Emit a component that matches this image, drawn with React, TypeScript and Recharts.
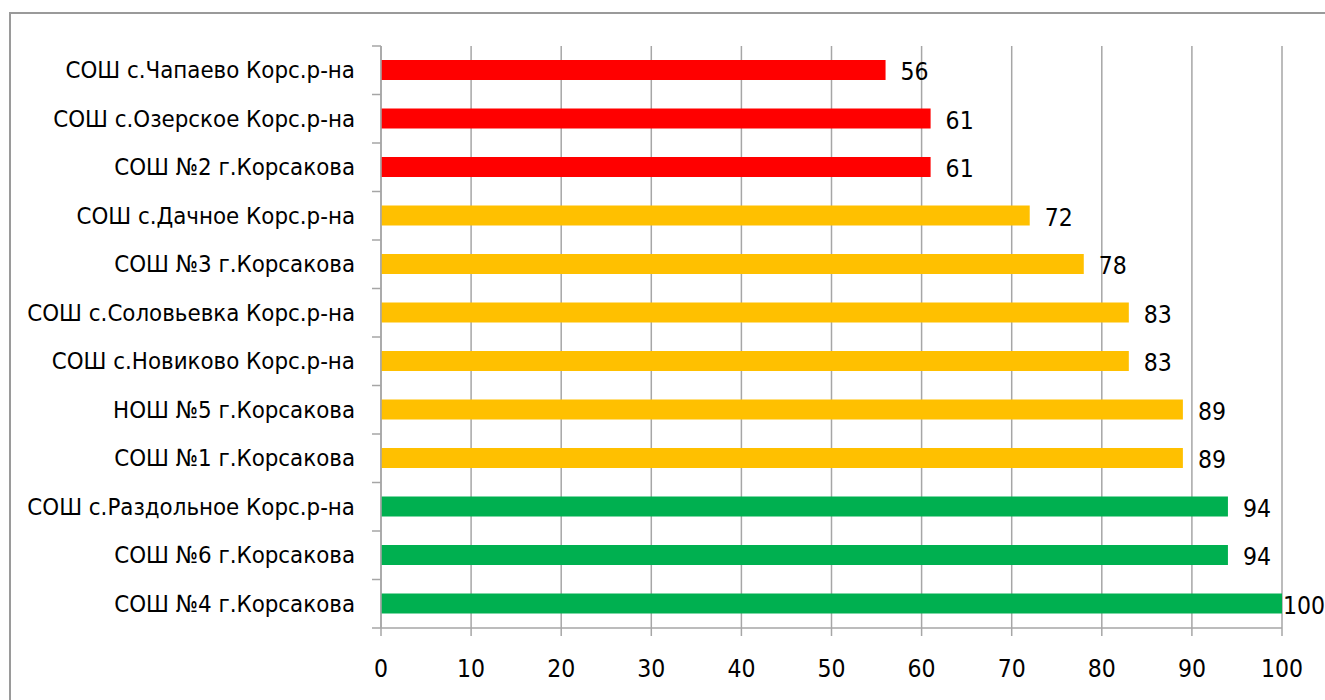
import React from 'react';
import { BarChart, Bar, XAxis, YAxis, CartesianGrid, Cell, LabelList } from 'recharts';

const schools = [
  'СОШ с.Чапаево Корс.р-на',
  'СОШ с.Озерское Корс.р-на',
  'СОШ №2 г.Корсакова',
  'СОШ с.Дачное Корс.р-на',
  'СОШ №3 г.Корсакова',
  'СОШ с.Соловьевка Корс.р-на',
  'СОШ с.Новиково Корс.р-на',
  'НОШ №5 г.Корсакова',
  'СОШ №1 г.Корсакова',
  'СОШ с.Раздольное Корс.р-на',
  'СОШ №6 г.Корсакова',
  'СОШ №4 г.Корсакова',
];
const scores = [56, 61, 61, 72, 78, 83, 83, 89, 89, 94, 94, 100];
const barColors = [
  '#FF0000', '#FF0000', '#FF0000',
  '#FFC000', '#FFC000', '#FFC000', '#FFC000', '#FFC000', '#FFC000',
  '#00B050', '#00B050', '#00B050',
];
const xTicks = [0, 10, 20, 30, 40, 50, 60, 70, 80, 90, 100];

const data = schools.map((name, i) => ({ name, value: scores[i] }));

const W = 1325;
const H = 700;
const margin = { top: 46, right: 43, bottom: 30, left: 0 };
const Y_AXIS_W = 381;
const X_AXIS_H = 42;
const FONT = "'DejaVu Sans Condensed', 'Liberation Sans Narrow', sans-serif";
const GRID = '#a6a6a6';

const plotH = H - margin.top - margin.bottom - X_AXIS_H;
const band = plotH / schools.length;
const axisX = margin.left + Y_AXIS_W;

const YTick = (props: any) => {
  const { y, payload, index } = props;
  return (
    <g>
      <text x={axisX - 26} y={y} textAnchor="end" dominantBaseline="central" fontSize={23.8} fill="#000" fontFamily={FONT}>
        {payload.value}
      </text>
      <line x1={axisX - 9} x2={axisX} y1={y - band / 2} y2={y - band / 2} stroke={GRID} strokeWidth={1.5} />
      {index === schools.length - 1 && (
        <line x1={axisX - 9} x2={axisX} y1={y + band / 2} y2={y + band / 2} stroke={GRID} strokeWidth={1.5} />
      )}
    </g>
  );
};

const ValueLabel = (props: any) => {
  const { x, y, width, height, value } = props;
  const tx = Math.min(x + width + 15, W - 42);
  return (
    <text x={tx} y={y + height / 2 + 1.5} dominantBaseline="central" fontSize={24.5} fill="#000" fontFamily={FONT}>
      {value}
    </text>
  );
};

export default function App() {
  return (
    <div style={{ position: 'absolute', left: 0, top: 0, width: W, height: H, background: '#fff', overflow: 'hidden' }}>
      <div
        style={{
          position: 'absolute',
          left: 9,
          top: 12,
          width: 1400,
          height: 800,
          borderLeft: '2px solid #9a9a9a',
          borderTop: '2px solid #9a9a9a',
        }}
      />
      <div style={{ position: 'absolute', left: 0, top: 0 }}>
        <BarChart width={W} height={H} data={data} layout="vertical" margin={margin}>
          <CartesianGrid horizontal={false} stroke={GRID} strokeWidth={1.5} />
          <XAxis
            type="number"
            domain={[0, 100]}
            ticks={xTicks}
            height={X_AXIS_H}
            axisLine={{ stroke: GRID, strokeWidth: 1.5 }}
            tickLine={{ stroke: GRID, strokeWidth: 1.5 }}
            tickSize={8}
            tickMargin={24}
            tick={{ fill: '#000', fontSize: 24.5, fontFamily: FONT }}
          />
          <YAxis
            type="category"
            dataKey="name"
            width={Y_AXIS_W}
            axisLine={{ stroke: GRID, strokeWidth: 1.5 }}
            tickLine={false}
            interval={0}
            tick={<YTick />}
          />
          <Bar dataKey="value" barSize={20} isAnimationActive={false}>
            {data.map((d, i) => (
              <Cell key={d.name} fill={barColors[i]} />
            ))}
            <LabelList dataKey="value" content={<ValueLabel />} />
          </Bar>
        </BarChart>
      </div>
    </div>
  );
}
